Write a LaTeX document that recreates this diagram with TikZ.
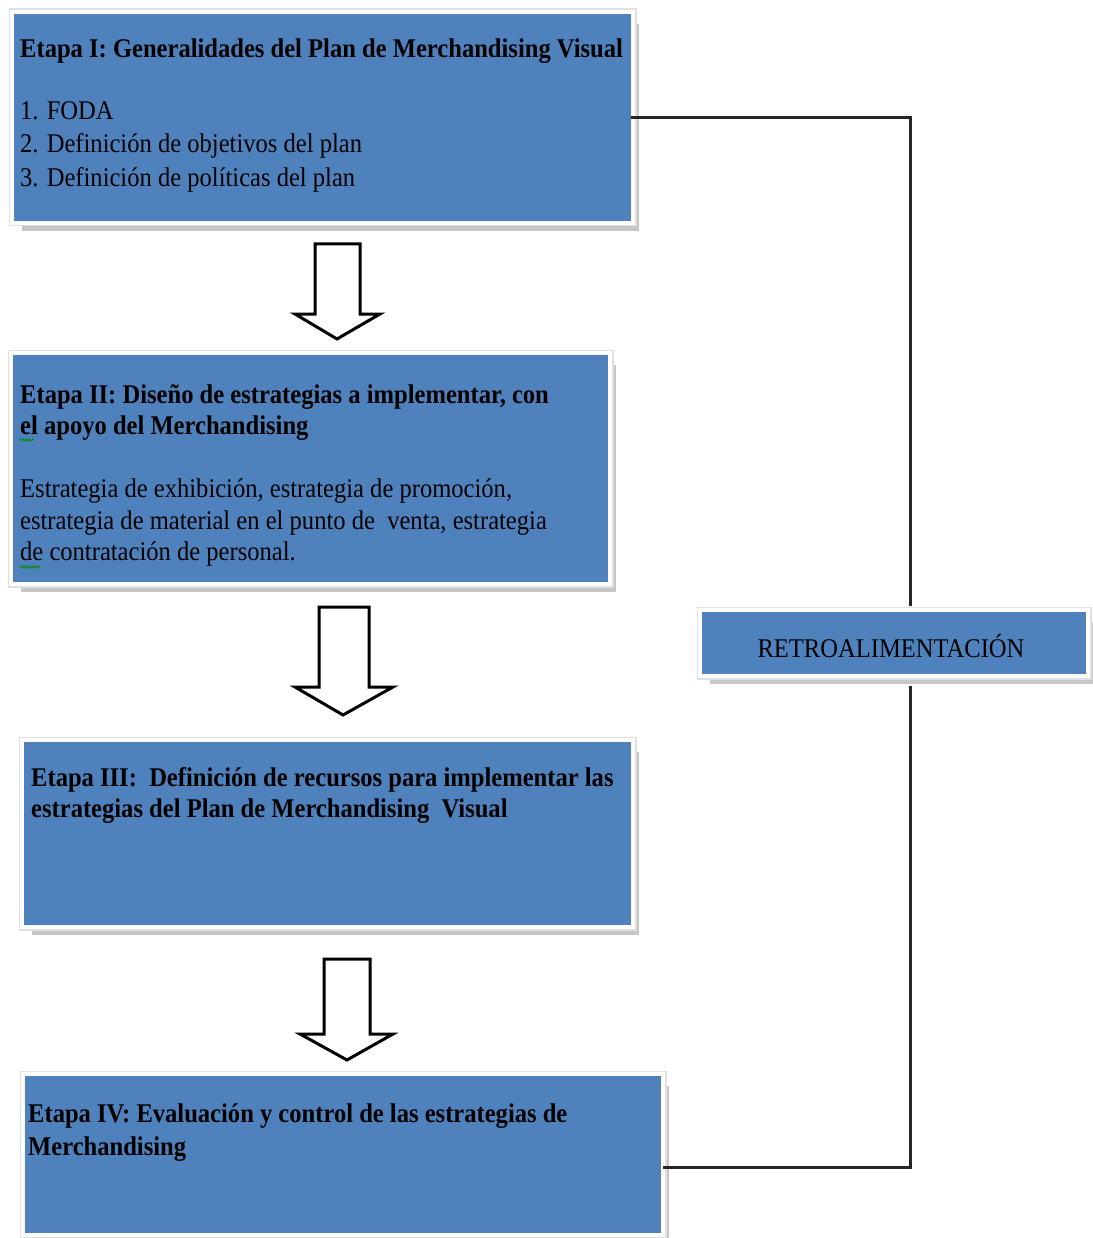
\documentclass[tikz,border=0pt]{standalone}
\usepackage{fontspec}
\setmainfont{Liberation Serif}[FakeStretch=0.91]
\usetikzlibrary{shadows,decorations.pathmorphing}
\definecolor{boxblue}{HTML}{4F81BD}
\tikzset{
  box/.style={rectangle, fill=boxblue, inner sep=0pt, outer sep=0pt, anchor=north west,
    drop shadow={shadow xshift=8pt, shadow yshift=-10pt, fill=black!22, opacity=1},
    preaction={draw=black!12, line width=11pt},
    preaction={draw=white, line width=8pt}},
  txt/.style={anchor=base west, inner sep=0pt, font=\fontsize{27}{32}\selectfont},
  btxt/.style={txt, font=\fontsize{27}{32}\selectfont\bfseries},
  feed/.style={draw=black!85, line width=3pt},
  blockarr/.style={draw=black, line width=3pt, fill=white, line join=miter},
  squig/.style={draw=green!55!black, line width=0.8pt, decorate, decoration={zigzag, amplitude=1.2pt, segment length=3pt}}
}
\begin{document}
\begin{tikzpicture}[x=1pt,y=-1pt]
\useasboundingbox (0,0) rectangle (1092,1238);
% boxes
\node[box, minimum width=617pt, minimum height=207pt] (b1) at (14,14) {};
\node[box, minimum width=595pt, minimum height=227pt] (b2) at (13,355) {};
\node[box, minimum width=607pt, minimum height=183pt] (b3) at (24,742) {};
\node[box, minimum width=636pt, minimum height=157pt] (b4) at (25,1076) {};
\node[box, minimum width=384pt, minimum height=62pt] (r) at (702,612) {};
% texts
\node[btxt] (t1) at (20,58) {Etapa I: Generalidades del Plan de Merchandising Visual};
\node[txt] (t1a) at (20,120) {1. FODA};
\node[txt] (t1b) at (20,153) {2. Definición de objetivos del plan};
\node[txt] (t1c) at (20,187) {3. Definición de políticas del plan};
\node[btxt] (t2) at (20,403) {Etapa II: Diseño de estrategias a implementar, con};
\node[btxt] (t2b) at (20,434) {el apoyo del Merchandising};
\node[txt] (t2c) at (20,497) {Estrategia de exhibición, estrategia de promoción,};
\node[txt] (t2d) at (20,529) {estrategia de material en el punto de\ \ venta, estrategia};
\node[txt] (t2e) at (20,560) {de contratación de personal.};
\node[btxt] (t3) at (31,786) {Etapa III:\ \ Definición de recursos para implementar las};
\node[btxt] (t3b) at (31,817) {estrategias del Plan de Merchandising\ \ Visual};
\node[btxt] (t4) at (28,1122) {Etapa IV: Evaluación y control de las estrategias de};
\node[btxt] (t4b) at (28,1155) {Merchandising};
\node[txt, anchor=center] (tr) at (891,646) {RETROALIMENTACIÓN};
% spelling marks
\draw[squig] (20,440) -- (34,440);
\draw[squig] (20,567) -- (40,567);
% feedback lines
\coordinate (k) at (910,0);
\coordinate (kb) at (0,1167);
\draw[feed] (b1.east) -- (b1.east -| k) -- ([yshift=6pt]k |- r.north);
\draw[feed] ([yshift=-12pt]k |- r.south) -- (k |- kb) -- ([xshift=2pt]b4.east |- kb);
% block arrows
\draw[blockarr] (315,244) -- (360,244) -- (360,314) -- (380,314) -- (337,339) -- (295,314) -- (315,314) -- cycle;
\draw[blockarr] (319,607) -- (369,607) -- (369,687) -- (393,687) -- (343,715) -- (295,687) -- (319,687) -- cycle;
\draw[blockarr] (324,959) -- (370,959) -- (370,1034) -- (393,1034) -- (347,1060) -- (300,1034) -- (324,1034) -- cycle;
\end{tikzpicture}
\end{document}
